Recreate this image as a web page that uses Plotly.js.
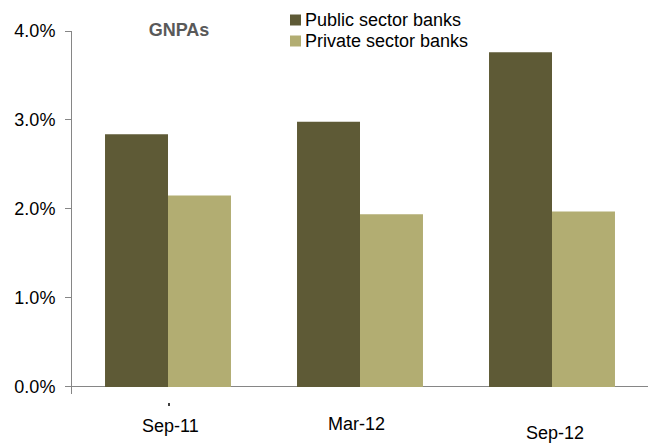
<!DOCTYPE html>
<html>
<head>
<meta charset="utf-8">
<script src="https://cdn.plot.ly/plotly-3.0.1.min.js"></script>
<style>html,body{margin:0;padding:0;background:#fff;}#chart{width:656px;height:443px;}</style>
</head>
<body>
<div id="chart"></div>
<script>
// Data
var categories = ["Sep-11", "Mar-12", "Sep-12"];
var publicBanks = [0.0284, 0.0298, 0.0376];
var privateBanks = [0.0215, 0.0194, 0.0197];
var seriesNames = ["Public sector banks", "Private sector banks"];
var seriesColors = ["#5e5a36", "#b2ad72"];
var yTickValues = [0, 0.01, 0.02, 0.03, 0.04];
var yTickLabels = ["0.0%", "1.0%", "2.0%", "3.0%", "4.0%"];
var chartTitle = "GNPAs";

var FONT = "Arial, 'Liberation Sans', sans-serif";
var PLOT_BOTTOM = 394, PLOT_H = 363, PLOT_L = 72, PLOT_W = 576;
function py(Y) { return (PLOT_BOTTOM - Y) / PLOT_H; }
function px(X) { return (X - PLOT_L) / PLOT_W; }

var labelShift = [-32, -30, -39];
var labelXShift = [2, -4, 3];

var traces = [
  {type: "bar", name: seriesNames[0], x: categories, y: publicBanks,
   marker: {color: seriesColors[0], line: {width: 0}}, hoverinfo: "skip", showlegend: false},
  {type: "bar", name: seriesNames[1], x: categories, y: privateBanks,
   marker: {color: seriesColors[1], line: {width: 0}}, hoverinfo: "skip", showlegend: false}
];

var annotations = categories.map(function (c, i) {
  return {x: c, xref: "x", y: 0, yref: "paper", yanchor: "middle",
          yshift: labelShift[i], xshift: labelXShift[i], text: c, showarrow: false,
          font: {family: FONT, size: 18, color: "#000"}};
});

// legend built from series names/colours
var legendRows = [20, 41];
var shapes = [];
seriesNames.forEach(function (n, i) {
  annotations.push({x: px(303), xref: "paper", xanchor: "left", y: py(legendRows[i]), yref: "paper",
                    yanchor: "middle", text: n, showarrow: false,
                    font: {family: FONT, size: 18, color: "#000"}});
  shapes.push({type: "rect", xref: "paper", yref: "paper",
               x0: px(290), x1: px(301), y0: py(legendRows[i] + 5.5), y1: py(legendRows[i] - 5.5),
               fillcolor: seriesColors[i], line: {width: 0}});
});
shapes.push({type: "line", xref: "paper", yref: "paper", x0: px(169), x1: px(169),
             y0: py(403), y1: py(406), line: {color: "#000", width: 1.5}});

var layout = {
  width: 656, height: 443,
  margin: {l: PLOT_L, r: 8, t: 31, b: 49, pad: 0},
  paper_bgcolor: "#fff", plot_bgcolor: "#fff",
  barmode: "group", bargap: 0.344, bargroupgap: 0,
  title: {text: "<b>" + chartTitle + "</b>", x: 179 / 656, xanchor: "center", xref: "container",
          y: 1 - 30 / 443, yanchor: "middle", yref: "container",
          font: {family: FONT, size: 18, color: "#595959"}},
  xaxis: {type: "category", showline: false, showticklabels: false, ticks: "",
          showgrid: false, zeroline: false, fixedrange: true},
  yaxis: {range: [-0.0008, 0.04], tickvals: yTickValues, ticktext: yTickLabels,
          showline: true, linecolor: "#868686", linewidth: 1,
          ticks: "outside", ticklen: 6, tickcolor: "#868686", tickwidth: 1,
          ticklabelstandoff: 6,
          showgrid: false, zeroline: true, zerolinecolor: "#868686", zerolinewidth: 1,
          tickfont: {family: FONT, size: 18, color: "#000"}, fixedrange: true},
  showlegend: false,
  annotations: annotations,
  shapes: shapes
};

Plotly.newPlot("chart", traces, layout, {staticPlot: true, displayModeBar: false});
</script>
</body>
</html>
